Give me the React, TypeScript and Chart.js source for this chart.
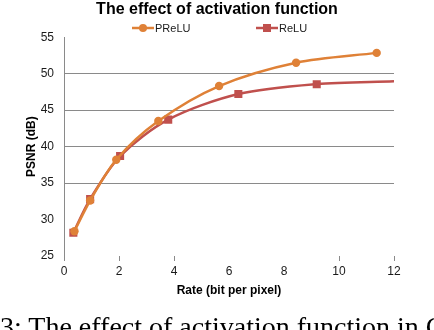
import React, { useEffect, useRef } from "react";
import { Chart, registerables } from "chart.js";

Chart.register(...registerables);

const titleText = "The effect of activation function";
const captionText = "3: The effect of activation function in Co";
const xAxisTitle = "Rate (bit per pixel)";
const yAxisTitle = "PSNR (dB)";

const preluName = "PReLU";
const preluRate = [0.38, 0.95, 1.9, 3.43, 5.64, 8.44, 11.37];
const preluPsnr = [28.4, 32.6, 38.2, 43.5, 48.3, 51.5, 52.85];

const reluName = "ReLU";
const reluRate = [0.34, 0.95, 2.04, 3.79, 6.34, 9.19, 12];
const reluPsnr = [28.2, 32.8, 38.7, 43.7, 47.2, 48.56, 48.95];
const reluMarker = [1, 1, 1, 1, 1, 1, 0];

const xMin = 0, xMax = 12, xStep = 2;
const yMin = 25, yMax = 55, yStep = 5;

const ORANGE = "#DF8137";
const RED = "#C0504D";
const GRID = "#8A8A8A";
const TEXT = "#1a1a1a";

// legend item anchors (left of the line sample) and vertical centre
const legendLefts = [132, 256];
const legendY = 28;

const lineLegend = {
  id: "lineLegend",
  afterDraw(chart: any) {
    const ctx = chart.ctx;
    chart.data.datasets.forEach((ds: any, i: number) => {
      const x0 = legendLefts[i];
      const x1 = x0 + 22;
      const cy = legendY;
      ctx.save();
      ctx.strokeStyle = ds.borderColor;
      ctx.lineWidth = 2.5;
      ctx.beginPath();
      ctx.moveTo(x0, cy);
      ctx.lineTo(x1, cy);
      ctx.stroke();
      ctx.fillStyle = ds.borderColor;
      const cx = x0 + 11;
      if (ds.pointStyle === "rect") {
        ctx.fillRect(cx - 4, cy - 4, 8, 8);
      } else {
        ctx.beginPath();
        ctx.arc(cx, cy, 4, 0, Math.PI * 2);
        ctx.fill();
      }
      ctx.fillStyle = TEXT;
      ctx.font = "11px 'Liberation Sans'";
      ctx.textBaseline = "middle";
      ctx.textAlign = "left";
      ctx.fillText(ds.label, x1 + 1, cy + 0.5);
      ctx.restore();
    });
  },
};

export default function App() {
  const ref = useRef<HTMLCanvasElement>(null);
  useEffect(() => {
    if (!ref.current) return;
    const chart = new Chart(ref.current, {
      type: "line",
      data: {
        datasets: [
          {
            label: preluName,
            data: preluRate.map((x, i) => ({ x, y: preluPsnr[i] })),
            borderColor: ORANGE,
            backgroundColor: ORANGE,
            borderWidth: 2.5,
            pointStyle: "circle",
            pointRadius: 4.2,
            pointBorderWidth: 0,
            tension: 0.3,
          },
          {
            label: reluName,
            data: reluRate.map((x, i) => ({ x, y: reluPsnr[i] })),
            borderColor: RED,
            backgroundColor: RED,
            borderWidth: 2.5,
            pointStyle: "rect",
            pointRadius: reluMarker.map((m) => m * 5.7),
            pointBorderWidth: 0,
            tension: 0.3,
          },
        ],
      },
      options: {
        responsive: false,
        animation: false,
        layout: { padding: { left: 0, right: 0, top: 0, bottom: 0 } },
        plugins: {
          title: {
            display: true,
            text: titleText,
            color: "#000",
            font: { family: "Liberation Sans", size: 16, weight: "bold" },
            padding: { top: 0, bottom: 18 },
          },
          legend: { display: false },
          tooltip: { enabled: false },
        },
        scales: {
          x: {
            type: "linear",
            min: xMin,
            max: xMax,
            afterFit: (s: any) => {
              s.height = 74;
            },
            ticks: {
              stepSize: xStep,
              color: TEXT,
              font: { family: "Liberation Sans", size: 12 },
              padding: 3,
            },
            grid: {
              drawOnChartArea: false,
              drawTicks: true,
              tickLength: 5,
              color: (c: any) =>
                c.tick && (c.tick.value === 6 || c.tick.value === 8) ? "rgba(0,0,0,0)" : GRID,
            },
            border: { display: false },
            title: {
              display: true,
              text: xAxisTitle,
              color: "#000",
              font: { family: "Liberation Sans", size: 12, weight: "bold" },
              padding: { top: 2, bottom: 32 },
            },
          },
          y: {
            type: "linear",
            min: yMin,
            max: yMax,
            afterFit: (s: any) => {
              s.width = 64;
            },
            ticks: {
              stepSize: yStep,
              color: TEXT,
              font: { family: "Liberation Sans", size: 12 },
              padding: 10,
            },
            grid: {
              drawTicks: false,
              color: (c: any) =>
                c.tick && c.tick.value >= 35 && c.tick.value <= 50 ? GRID : "rgba(0,0,0,0)",
            },
            border: { display: true, color: GRID },
            title: {
              display: true,
              text: yAxisTitle,
              color: "#000",
              font: { family: "Liberation Sans", size: 12, weight: "bold" },
              padding: { top: 24, bottom: 0 },
            },
          },
          yRight: {
            type: "linear",
            position: "right",
            min: yMin,
            max: yMax,
            display: true,
            afterFit: (s: any) => {
              s.width = 40;
            },
            ticks: { display: false },
            grid: { display: false },
            border: { display: false },
          },
        },
      },
      plugins: [lineLegend],
    });
    return () => chart.destroy();
  }, []);

  return (
    <div
      style={{
        position: "fixed",
        left: 0,
        top: 0,
        width: 434,
        height: 330,
        overflow: "hidden",
        background: "#fff",
      }}
    >
      <canvas ref={ref} width={434} height={330} style={{ position: "absolute", left: 0, top: 0 }} />
      <div
        style={{
          position: "absolute",
          left: 0,
          top: 313,
          whiteSpace: "nowrap",
          fontFamily: "'Liberation Serif', serif",
          fontSize: 28,
          lineHeight: "28px",
          color: "#000",
        }}
      >
        {captionText}
      </div>
    </div>
  );
}
